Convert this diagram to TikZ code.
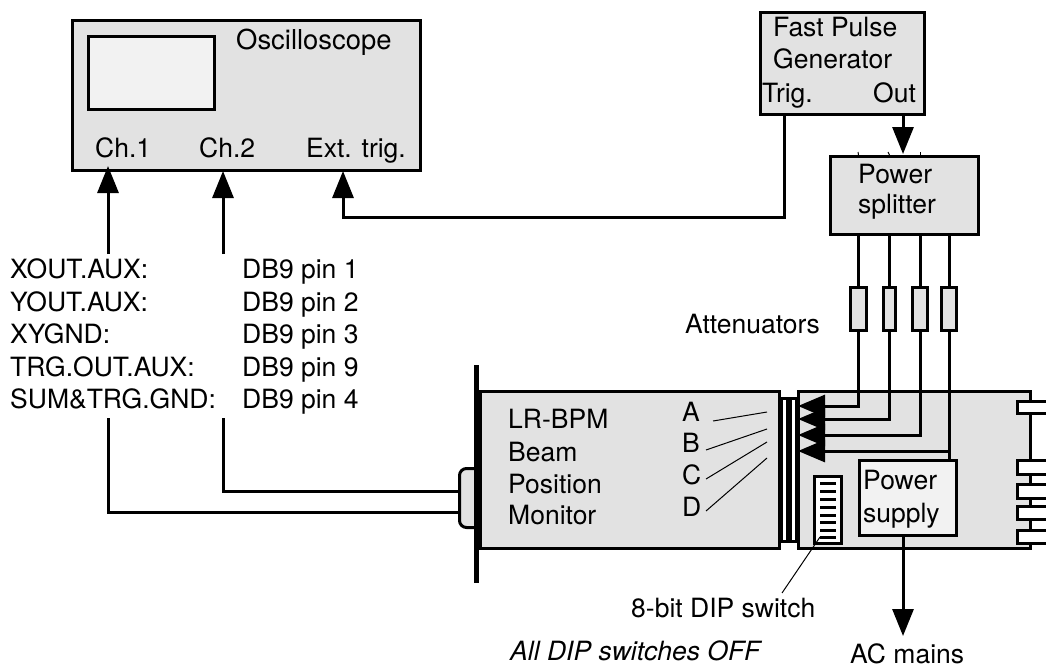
\documentclass[tikz,border=0pt]{standalone}
\usepackage{fontspec}
\setmainfont{TeX Gyre Heros}
\usetikzlibrary{arrows.meta, positioning}
\definecolor{panelGray}{RGB}{226,226,226}
\definecolor{screenGray}{RGB}{242,242,242}

\begin{document}
\begin{tikzpicture}[
    x=1pt, y=-1pt,
    block/.style={rectangle, draw, line width=3pt, fill=panelGray, inner sep=0pt, anchor=north west},
    inner/.style={block, fill=screenGray},
    strip/.style={block, fill=white},
    label/.style={font=\fontsize{26.5}{32}\selectfont, inner sep=0pt, anchor=base west},
    wire/.style={line width=3pt},
    leader/.style={line width=1pt},
    arrow/.style={wire, -{Triangle[length=27pt, width=21pt]}},
    widearrow/.style={wire, -{Triangle[length=27pt, width=22pt]}}
]
\useasboundingbox (0,0) rectangle (1046,669);

% Oscilloscope
\node[block, minimum width=348pt, minimum height=150pt] (scope) at (71,19) {};
\node[inner, minimum width=126pt, minimum height=73pt] (screen) at (87,35) {};
\node[label, font=\fontsize{27.4}{32}\selectfont] (scopename) at (236,50) {Oscilloscope};
\node[label] (ch1) at (95,157) {Ch.1};
\node[label] (ch2) at (199,157) {Ch.2};
\node[label] (exttrig) at (306,157) {Ext. trig.};

% Pulse generator
\node[block, minimum width=164pt, minimum height=102pt] (gen) at (759,11) {};
\node[label] (genname1) at (773,37) {Fast Pulse};
\node[label] (genname2) at (773,68) {Generator};
\node[label] (trig) at (762,102) {Trig.};
\node[label] (out) at (873,102) {Out};

% Power splitter
\node[block, minimum width=148pt, minimum height=78pt] (split) at (829,155) {};
\node[label] (splitname1) at (858,183) {Power};
\node[label] (splitname2) at (858,213) {splitter};

% Attenuators
\node[block, minimum width=16pt, minimum height=43pt] (att1) at (849,286) {};
\node[block, minimum width=12pt, minimum height=43pt] (att2) at (882,286) {};
\node[block, minimum width=15pt, minimum height=43pt] (att3) at (911,286) {};
\node[block, minimum width=15pt, minimum height=43pt] (att4) at (940,286) {};
\node[label] (attname) at (685,333) {Attenuators};

% Front panel and BPM
\node[block, rounded corners=7pt, minimum width=40pt, minimum height=59pt] (plug) at (458,467) {};
\node[block, minimum width=299pt, minimum height=157pt] (bpm) at (479,390) {};
\node[rectangle, fill=black, inner sep=0pt, anchor=north west, minimum width=5pt, minimum height=218pt] (bar) at (474,365) {};
\node[label] (bpmname1) at (508,428) {LR-BPM};
\node[label] (bpmname2) at (508,461) {Beam};
\node[label] (bpmname3) at (508,493) {Position};
\node[label] (bpmname4) at (508,524) {Monitor};
\node[label] (la) at (682,421) {A};
\node[label] (lb) at (682,452) {B};
\node[label] (lc) at (682,484) {C};
\node[label] (ld) at (682,516) {D};

% Connector strips
\node[strip, minimum width=6pt, minimum height=143pt] (strip1) at (780,397) {};
\node[strip, minimum width=6pt, minimum height=143pt] (strip2) at (789,397) {};

% Rear unit
\node[block, minimum width=232pt, minimum height=157pt] (rear) at (797,390) {};
\node[strip, minimum width=32pt, minimum height=12pt] (pin1) at (1016,400) {};
\node[strip, minimum width=32pt, minimum height=14pt] (pin2) at (1016,459) {};
\node[strip, minimum width=32pt, minimum height=14pt] (pin3) at (1016,483) {};
\node[strip, minimum width=32pt, minimum height=13pt] (pin4) at (1016,505) {};
\node[strip, minimum width=32pt, minimum height=13pt] (pin5) at (1016,529) {};
\node[inner, minimum width=97pt, minimum height=75pt] (psu) at (858,459) {};
\node[label] (psuname1) at (863,489) {Power};
\node[label] (psuname2) at (863,522) {supply};

% DIP switch
\node[strip, minimum width=27pt, minimum height=67pt] (dip) at (813,475) {};
\draw[wire] (820,483) -- (836,483);
\draw[wire] (820,491) -- (836,491);
\draw[wire] (820,499) -- (836,499);
\draw[wire] (820,507) -- (836,507);
\draw[wire] (820,515) -- (836,515);
\draw[wire] (820,522) -- (836,522);
\draw[wire] (820,530) -- (836,530);
\draw[wire] (820,537) -- (836,537);

% Free ends
\coordinate (ch1tip) at (108,166);
\coordinate (ch1top) at (108,254);
\coordinate (ch2tip) at (223,171);
\coordinate (ch2top) at (223,254);
\coordinate (exttip) at (343,171);
\coordinate (extbend) at (784,217);
\coordinate (trigout) at (784,113);
\coordinate (genout) at (903,113);
\coordinate (splitin) at (903,154);
\coordinate (ch1low) at (108,418);
\coordinate (ch2low) at (223,418);
\coordinate (plug1) at (458,512);
\coordinate (plug2) at (458,491);
\coordinate (tipa) at (798,406);
\coordinate (tipb) at (798,419);
\coordinate (tipc) at (798,435);
\coordinate (tipd) at (798,451);
\coordinate (acmain) at (903,636);

% Arrows
\draw[arrow] (ch1top) -- (ch1tip);
\draw[arrow] (ch2top) -- (ch2tip);
\draw[arrow] (trigout) -- (extbend) -- (extbend -| exttip) -- (exttip);
\draw[arrow] (genout) -- (splitin);
\draw[wire] (ch1low) |- (plug1);
\draw[wire] (ch2low) |- (plug2);

% Splitter outputs
\draw[wire] (split.south -| att1) -- (att1);
\draw[wire] (split.south -| att2) -- (att2);
\draw[wire] (split.south -| att3) -- (att3);
\draw[wire] (split.south -| att4) -- (att4);
\draw[leader] (858,152) -- (split.north -| att1);
\draw[leader] (888,152) -- (split.north -| att2);
\draw[leader] (920,152) -- (split.north -| att3);

% Inputs to rear unit
\draw[widearrow] (att1.south) |- (tipa);
\draw[widearrow] (att2.south) |- (tipb);
\draw[widearrow] (att3.south) |- (tipc);
\draw[widearrow] (att4.south) |- (tipd);
\draw[wire] (att4.south) -- (psu.north -| att4);
\draw[arrow] (psu.south -| acmain) -- (acmain);

% Thin lines
\coordinate (aa) at (713,421);
\coordinate (ab) at (767,412);
\coordinate (ba) at (706,450);
\coordinate (bb) at (767,429);
\coordinate (ca) at (706,479);
\coordinate (cb) at (767,442);
\coordinate (da) at (706,511);
\coordinate (db) at (767,458);
\draw[leader] (aa) -- (ab);
\draw[leader] (ba) -- (bb);
\draw[leader] (ca) -- (cb);
\draw[leader] (da) -- (db);
\coordinate (dipa) at (820,537);
\coordinate (dipb) at (782,593);
\draw[leader] (dipa) -- (dipb);

% Pin list
\node[label] (xout) at (10,278) {XOUT.AUX:};
\node[label] (yout) at (10,311) {YOUT.AUX:};
\node[label] (xygnd) at (10,343) {XYGND:};
\node[label] (trgout) at (10,376) {TRG.OUT.AUX:};
\node[label] (sumgnd) at (10,408) {SUM\&TRG.GND:};
\node[label] (pin1name) at (242,278) {DB9 pin 1};
\node[label] (pin2name) at (242,311) {DB9 pin 2};
\node[label] (pin3name) at (242,343) {DB9 pin 3};
\node[label] (pin9name) at (242,376) {DB9 pin 9};
\node[label] (pin4name) at (242,408) {DB9 pin 4};

% Notes
\node[label] (dipname) at (631,617) {8-bit DIP switch};
\node[label, font=\fontsize{26.5}{32}\selectfont\itshape] (dipnote) at (510,660) {All DIP switches OFF};
\node[label] (acname) at (850,663) {AC mains};

\end{tikzpicture}
\end{document}
